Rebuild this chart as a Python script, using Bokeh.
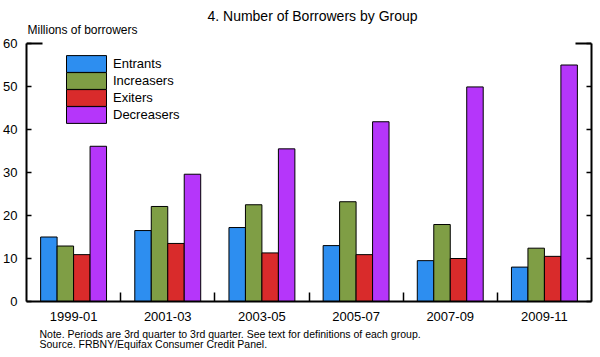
from bokeh.plotting import figure
from bokeh.models import (Range1d, FixedTicker, LinearAxis, Label, Legend,
                          LegendItem, ColumnDataSource, Title)
from bokeh.embed import file_html
from bokeh.resources import INLINE

periods = ["1999-01", "2001-03", "2003-05", "2005-07", "2007-09", "2009-11"]
entrants = [15.0, 16.5, 17.2, 13.0, 9.5, 8.0]
increasers = [12.9, 22.1, 22.5, 23.2, 17.9, 12.4]
exiters = [10.9, 13.5, 11.3, 10.9, 10.0, 10.5]
decreasers = [36.1, 29.6, 35.5, 41.8, 49.9, 55.0]
series_names = ["Entrants", "Increasers", "Exiters", "Decreasers"]
y_ticks = [0, 10, 20, 30, 40, 50, 60]
y_max = 60

colors = ["#2d8ef0", "#7f9e45", "#d92b2b", "#b536fa"]
FONT = "Liberation Sans"

# frame spans 0..301 px; the 0..60 axis occupies 43..301 px
frame_top, axis_top, frame_bottom = 0, 43, 301
y_end = y_max * (frame_bottom - frame_top) / (frame_bottom - axis_top)

p = figure(width=600, height=357, x_range=Range1d(0, 6), y_range=Range1d(0, y_end),
           output_backend="svg", toolbar_location=None,
           min_border_left=26, min_border_right=9, min_border_top=frame_top,
           min_border_bottom=56, y_axis_location=None, x_axis_location=None)
p.outline_line_color = None
p.xgrid.visible = False
p.ygrid.visible = False
p.background_fill_color = "white"
p.border_fill_color = "white"

n_groups = len(periods)
n_series = len(series_names)
bar_w = 0.175
series_values = [entrants, increasers, exiters, decreasers]
renderers = []
for k, (name, vals) in enumerate(zip(series_names, series_values)):
    off = (k - (n_series - 1) / 2) * bar_w
    src = ColumnDataSource(dict(x=[i + 0.5 + off for i in range(n_groups)], top=vals))
    r = p.vbar(x="x", top="top", width=bar_w, source=src, fill_color=colors[k],
               line_color="black", line_width=1)
    renderers.append(r)

# x axis with group labels and separator ticks
centers = [i + 0.5 for i in range(n_groups)]
xaxis = LinearAxis(ticker=FixedTicker(ticks=centers, minor_ticks=list(range(1, n_groups))))
xaxis.major_label_overrides = {c: lab for c, lab in zip(centers, periods)}
xaxis.major_tick_line_color = None
xaxis.minor_tick_in = 9
xaxis.minor_tick_out = 0
xaxis.minor_tick_line_color = "black"
xaxis.minor_tick_line_width = 1.5
xaxis.axis_line_width = 2
xaxis.axis_line_color = "black"
xaxis.major_label_standoff = 4
xaxis.major_label_text_font = FONT
xaxis.major_label_text_font_size = "13px"
xaxis.major_label_text_color = "black"
p.add_layout(xaxis, "below")

for side in ("left", "right"):
    ax = LinearAxis(ticker=FixedTicker(ticks=y_ticks, minor_ticks=[]), bounds=(0, y_max))
    ax.major_tick_in = 5
    ax.major_tick_out = 0
    ax.major_tick_line_width = 1.5
    ax.minor_tick_line_color = None
    ax.axis_line_width = 2
    ax.axis_line_color = "black"
    if side == "left":
        ax.major_label_standoff = 9
        ax.major_label_text_font = FONT
        ax.major_label_text_font_size = "13px"
        ax.major_label_text_color = "black"
    else:
        ax.major_label_standoff = 0
        ax.major_label_text_font_size = "0px"
        ax.major_label_text_alpha = 0
    p.add_layout(ax, side)

# top stubs at 60
p.segment(x0=[0, 6], x1=[0.17, 5.83], y0=[y_max, y_max], y1=[y_max, y_max],
          line_color="black", line_width=2)

# legend: two interleaved legends so that the boxes touch (pitch 17 px)
common = dict(glyph_width=50, glyph_height=21, spacing=13, padding=0, margin=0,
              border_line_color=None, background_fill_alpha=0, label_text_font=FONT,
              label_text_font_size="13px", label_standoff=2, label_height=17,
              label_text_color="black")
leg_a = Legend(items=[LegendItem(label=series_names[0], renderers=[renderers[0]]),
                      LegendItem(label=series_names[2], renderers=[renderers[2]])],
               location=(35, 193), **common)
leg_b = Legend(items=[LegendItem(label=series_names[1], renderers=[renderers[1]]),
                      LegendItem(label=series_names[3], renderers=[renderers[3]])],
               location=(35, 176), **common)
p.add_layout(leg_a)
p.add_layout(leg_b)

# title and unit label, inside the (extended) frame
p.add_layout(Label(x=286, y=frame_bottom - 15, x_units="screen", y_units="screen",
                   text="4. Number of Borrowers by Group", text_align="center",
                   text_baseline="alphabetic", text_font=FONT,
                   text_font_size="14px", text_color="black"))
p.add_layout(Label(x=1, y=frame_bottom - 29, x_units="screen", y_units="screen",
                   text="Millions of borrowers", text_align="left",
                   text_baseline="alphabetic", text_font=FONT,
                   text_font_size="12px", text_color="black"))

notes = Title(text="Note. Periods are 3rd quarter to 3rd quarter.  See text for definitions of each group.\n"
                   "Source. FRBNY/Equifax Consumer Credit Panel.",
              align="left", offset=13, standoff=8, vertical_align="top",
              text_font=FONT, text_font_size="10.5px", text_font_style="normal",
              text_color="black", text_line_height=0.87)
p.add_layout(notes, "below")

open("out.html", "w").write(file_html(p, INLINE))
